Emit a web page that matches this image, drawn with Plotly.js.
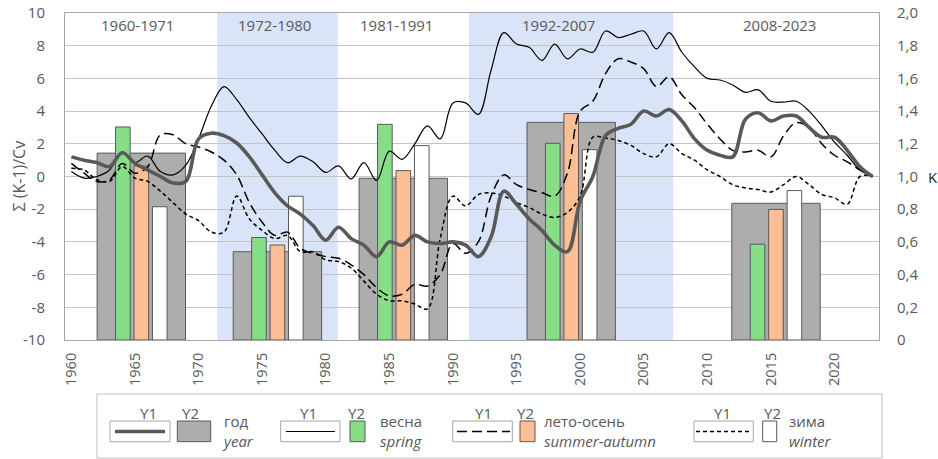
<!DOCTYPE html>
<html>
<head>
<meta charset="utf-8">
<script src="https://cdn.plot.ly/plotly-3.0.1.min.js"></script>
<style>html,body{margin:0;padding:0;background:#fff;}#chart{width:938px;height:459px;}</style>
</head>
<body>
<div id="chart"></div>
<script>
// ---------- DATA ----------
const years = [1960,1961,1962,1963,1964,1965,1966,1967,1968,1969,1970,1971,1972,1973,1974,1975,1976,1977,1978,1979,
  1980,1981,1982,1983,1984,1985,1986,1987,1988,1989,1990,1991,1992,1993,1994,1995,1996,1997,1998,1999,
  2000,2001,2002,2003,2004,2005,2006,2007,2008,2009,2010,2011,2012,2013,2014,2015,2016,2017,2018,2019,
  2020,2021,2022,2023];

// Y1: cumulative sum of (K-1)/Cv
const sumYear = [1.2,1.0,0.85,0.6,1.45,0.8,0.4,0.0,-0.4,-0.3,2.3,2.65,2.5,2.05,1.2,0.1,-1.0,-1.8,-2.3,-3.0,
  -3.9,-3.1,-3.8,-4.2,-4.9,-4.0,-4.2,-3.6,-4.0,-4.1,-4.0,-4.2,-4.9,-3.7,-0.9,-1.7,-2.6,-3.3,-4.2,-4.6,
  -1.5,0.0,2.5,2.95,3.2,4.0,3.7,4.1,3.4,2.3,1.6,1.3,1.2,3.5,3.9,3.4,3.7,3.7,3.0,2.4,
  2.4,1.6,0.6,0.0];
const sumSpring = [0.3,-0.1,0.0,0.4,1.5,0.85,1.25,0.3,0.1,0.7,2.3,4.3,5.5,4.7,3.6,2.6,1.6,0.85,1.25,0.9,
  0.25,0.65,-0.15,0.85,-0.25,1.55,1.05,2.0,3.1,2.3,4.5,4.5,3.8,6.5,8.8,8.1,7.9,7.1,8.1,7.2,
  7.8,7.6,8.9,8.5,8.7,8.9,7.8,8.8,7.6,6.7,6.0,5.9,5.6,5.15,5.3,4.6,4.55,4.6,4.0,3.1,
  2.1,1.3,0.4,0.0];
const sumSummer = [0.8,0.2,-0.3,-0.2,0.8,0.2,0.6,2.55,2.55,2.0,1.8,1.5,1.0,0.1,-1.6,-2.8,-3.6,-3.4,-4.4,-4.7,
  -4.9,-5.0,-5.4,-6.0,-6.8,-7.3,-7.2,-6.6,-6.7,-6.0,-4.1,-4.7,-4.0,-1.2,0.1,-0.5,-0.8,-1.0,-1.2,0.2,
  4.0,4.6,6.3,7.2,7.0,6.6,5.5,6.1,5.0,4.2,3.2,2.3,1.6,1.5,1.6,1.2,2.5,3.3,3.0,2.0,
  1.3,0.9,0.4,0.0];
const sumWinter = [0.5,0.4,-0.2,-0.3,0.6,-0.1,-0.3,-0.9,-1.6,-2.3,-2.7,-3.4,-3.4,-1.2,-2.6,-3.3,-3.8,-3.6,-4.6,-4.6,
  -5.1,-5.2,-5.6,-6.4,-7.2,-7.6,-7.6,-7.8,-8.1,-3.8,-1.2,-1.8,-1.1,-1.0,-1.2,-1.6,-1.9,-2.3,-2.5,-2.2,
  -1.2,2.4,2.35,2.2,1.9,1.4,1.2,2.0,1.4,1.0,0.4,0.0,-0.5,-0.7,-0.8,-0.95,-0.5,0.0,-0.5,-1.1,
  -1.3,-1.7,0.0,0.0];

// Y2: mean K per period
const periods = ['1960-1971','1972-1980','1981-1991','1992-2007','2008-2023'];
const periodBarX = [1965.5, 1976.2, 1986.1, 1999.3, 2015.4];
const kYear   = [1.143, 0.540, 0.989, 1.331, 0.836];
const kSpring = [1.303, 0.627, 1.319, 1.203, 0.586];
const kSummer = [1.064, 0.581, 1.036, 1.385, 0.799];
const kWinter = [0.815, 0.879, 1.189, 1.164, 0.914];

// shaded periods
const bandStart = [1971.47, 1991.26];
const bandEnd   = [1980.94, 2007.32];

// tick labels
const xTicks = [1960,1965,1970,1975,1980,1985,1990,1995,2000,2005,2010,2015,2020];
const kTickVals = [0,0.2,0.4,0.6,0.8,1.0,1.2,1.4,1.6,1.8,2.0];
const kTickText = ['0','0,2','0,4','0,6','0,8','1,0','1,2','1,4','1,6','1,8','2,0'];
const sTickVals = [-10,-8,-6,-4,-2,0,2,4,6,8,10];
const sTickText = ['-10','-8','-6','-4','-2','0','2','4','6','8','10'];

// ---------- STYLE / LAYOUT ----------
const FONT = 'Open Sans, Liberation Sans, sans-serif';
const TXT = '#595959';
const W = 938, H = 459, ML = 65, MR = 59, MT = 13, MB = 119;
const PW = W - ML - MR, PH = H - MT - MB;
const px2x = p => (p - ML) / PW;
const py2y = p => (H - MB - p) / PH;

const GREY = '#ADADAD', GREEN = '#86DE86', ORANGE = '#FCBE93', WHITE = '#FFFFFF', EDGE = '#595959';
const lineStyles = {
  year:   {color:'#595959', width:3.6, dash:'solid'},
  spring: {color:'#000000', width:1.2, dash:'solid'},
  summer: {color:'#000000', width:1.5, dash:'10px,5px'},
  winter: {color:'#000000', width:1.5, dash:'4px,3px'}
};

const colW = 1.15, colStep = 1.45, greyW = 6.95;
function barTrace(vals, color, off, w) {
  return {type:'bar', x: periodBarX, y: vals, yaxis:'y', xaxis:'x',
    width: w, offset: off,
    marker:{color: color, line:{color: EDGE, width:1}},
    hoverinfo:'skip', showlegend:false};
}
function lineTrace(vals, st) {
  return {type:'scatter', mode:'lines', x: years, y: vals, xaxis:'x', yaxis:'y2',
    line:{color: st.color, width: st.width, dash: st.dash, shape:'spline', smoothing:1.0},
    hoverinfo:'skip', showlegend:false};
}

const traces = [
  barTrace(kYear, GREY, -greyW/2, greyW),
  barTrace(kSpring, GREEN, -colStep - colW/2, colW),
  barTrace(kSummer, ORANGE, -colW/2, colW),
  barTrace(kWinter, WHITE, colStep - colW/2, colW),
  lineTrace(sumWinter, lineStyles.winter),
  lineTrace(sumSummer, lineStyles.summer),
  lineTrace(sumSpring, lineStyles.spring),
  lineTrace(sumYear, lineStyles.year)
];

const shapes = [];
for (let i = 0; i < bandStart.length; i++) {
  shapes.push({type:'rect', xref:'x', yref:'paper', x0: bandStart[i], x1: bandEnd[i], y0:0, y1:1,
    fillcolor:'#DAE4F8', line:{width:0}, layer:'below'});
}

const annotations = [];
const periodLabelX = [1965.2, 1976.0, 1985.6, 1998.3, 2015.7];
periods.forEach((p, i) => annotations.push({xref:'x', yref:'paper', x: periodLabelX[i], y: py2y(25),
  text: p, showarrow:false, font:{family:FONT, size:15, color:TXT}, xanchor:'center', yanchor:'middle'}));

annotations.push({xref:'paper', yref:'paper', x: px2x(18), y: 0.5, text:'Σ (K-1)/Cv', textangle:-90,
  showarrow:false, font:{family:FONT, size:16, color:TXT}, xanchor:'center', yanchor:'middle'});
annotations.push({xref:'paper', yref:'paper', x: px2x(933), y: py2y(177), text:'K',
  showarrow:false, font:{family:FONT, size:15, color:'#262626'}, xanchor:'center', yanchor:'middle'});

// ---------- custom legend ----------
const legTop = 394, legBot = 458;
shapes.push({type:'rect', xref:'paper', yref:'paper', x0:px2x(97), x1:px2x(882), y0:py2y(legBot), y1:py2y(legTop),
  line:{color:'#BFBFBF', width:1}, fillcolor:'rgba(0,0,0,0)', layer:'above'});
const legItems = [
  {y1c:148, box:[110,170], ln:[115,165], y2c:190, sq:[177.3,210.7], fill:GREY, nameX:220, ru:'год', en:'year', st:lineStyles.year},
  {y1c:308, box:[280.7,340], ln:[286,335], y2c:356, sq:[350,365], fill:GREEN, nameX:378, ru:'весна', en:'spring', st:lineStyles.spring},
  {y1c:483, box:[452.7,512.3], ln:[457,510], y2c:525, sq:[520,535], fill:ORANGE, nameX:541.5, ru:'лето-осень', en:'summer-autumn', st:lineStyles.summer},
  {y1c:722, box:[694,753.3], ln:[696,752], y2c:772, sq:[762.7,776.7], fill:WHITE, nameX:787, ru:'зима', en:'winter', st:lineStyles.winter}
];
const bTop = 421, bBot = 441.7, lnY = 431.5, labY = 412.5;
legItems.forEach(it => {
  shapes.push({type:'rect', xref:'paper', yref:'paper', x0:px2x(it.box[0]), x1:px2x(it.box[1]), y0:py2y(bBot), y1:py2y(bTop),
    line:{color:'#A6A6A6', width:1}, fillcolor:'#FFFFFF', layer:'above'});
  shapes.push({type:'line', xref:'paper', yref:'paper', x0:px2x(it.ln[0]), x1:px2x(it.ln[1]), y0:py2y(lnY), y1:py2y(lnY),
    line:{color:it.st.color, width:it.st.width, dash:it.st.dash}, layer:'above'});
  shapes.push({type:'rect', xref:'paper', yref:'paper', x0:px2x(it.sq[0]), x1:px2x(it.sq[1]), y0:py2y(bBot), y1:py2y(bTop),
    line:{color:EDGE, width:1}, fillcolor:it.fill, layer:'above'});
  annotations.push({xref:'paper', yref:'paper', x:px2x(it.y1c), y:py2y(labY), text:'Y1', showarrow:false,
    font:{family:FONT, size:15, color:TXT}, xanchor:'center', yanchor:'middle'});
  annotations.push({xref:'paper', yref:'paper', x:px2x(it.y2c), y:py2y(labY), text:'Y2', showarrow:false,
    font:{family:FONT, size:15, color:TXT}, xanchor:'center', yanchor:'middle'});
  annotations.push({xref:'paper', yref:'paper', x:px2x(it.nameX), y:py2y(431), text:it.ru + '<br><i>' + it.en + '</i>',
    showarrow:false, align:'left', font:{family:FONT, size:15, color:TXT}, xanchor:'left', yanchor:'middle'});
});

const layout = {
  width: W, height: H,
  margin:{l:ML, r:MR, t:MT, b:MB, pad:0},
  paper_bgcolor:'#FFFFFF', plot_bgcolor:'#FFFFFF',
  font:{family:FONT, size:15, color:TXT},
  barmode:'overlay',
  showlegend:false,
  xaxis:{range:[1959.5, 2023.5], tickmode:'array', tickvals:xTicks, ticktext:xTicks.map(String), tickangle:-90,
    showgrid:false, zeroline:false, showline:true, linecolor:'#A6A6A6', linewidth:1, mirror:true,
    ticks:'', ticklabelstandoff:6, tickfont:{family:FONT, size:14.5, color:TXT}},
  yaxis:{range:[0,2], side:'right', tickmode:'array', tickvals:kTickVals, ticktext:kTickText,
    showgrid:true, gridcolor:'#C4C4C4', gridwidth:1, zeroline:false, showline:true, linecolor:'#A6A6A6', mirror:true,
    ticks:'', ticklabelstandoff:14, tickfont:{family:FONT, size:15, color:TXT}},
  yaxis2:{range:[-10,10], side:'left', overlaying:'y', tickmode:'array', tickvals:sTickVals, ticktext:sTickText,
    showgrid:false, zeroline:false, showline:true, linecolor:'#A6A6A6',
    ticks:'', ticklabelstandoff:16, tickfont:{family:FONT, size:15, color:TXT}},
  shapes: shapes,
  annotations: annotations
};

Plotly.newPlot('chart', traces, layout, {displayModeBar:false, staticPlot:true});
</script>
</body>
</html>
